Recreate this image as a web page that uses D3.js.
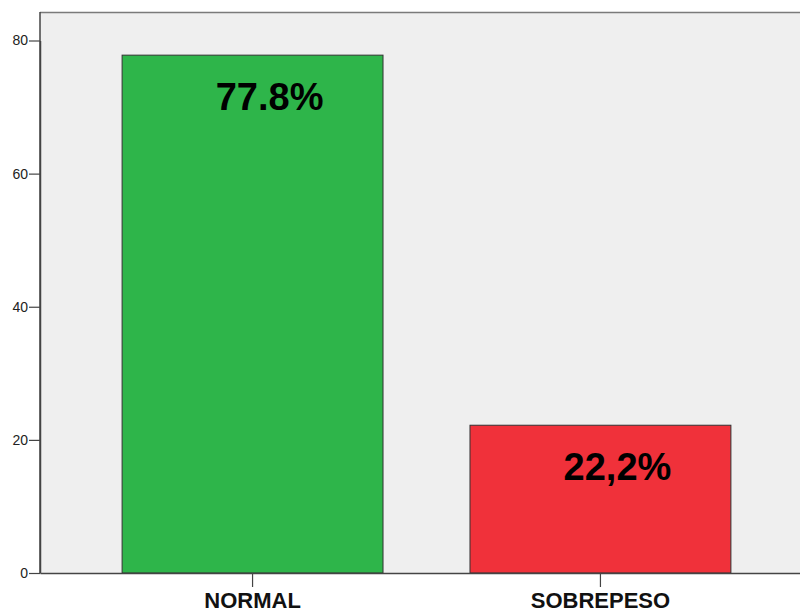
<!DOCTYPE html>
<html>
<head>
<meta charset="utf-8">
<script src="https://cdn.jsdelivr.net/npm/d3@7"></script>
<style>
  html, body { margin: 0; padding: 0; background: #ffffff; }
  svg { display: block; font-family: "Liberation Sans", Arial, sans-serif; }
</style>
</head>
<body>
<svg id="chart" width="800" height="612"></svg>
<script>
// Categories, values and their printed labels
const categories = ["NORMAL", "SOBREPESO"];
const values = [77.8, 22.2];
const valueLabels = ["77.8%", "22,2%"];
const yTicks = [0, 20, 40, 60, 80];
const barColors = ["#2eb54a", "#f0313a"];

const svg = d3.select("#chart");

// Plot frame
const plotLeft = 40, plotTop = 12, plotBottom = 573, plotRight = 813;

const x = d3.scaleBand()
  .domain(categories)
  .range([plotLeft, plotRight])
  .paddingInner(0.25)
  .paddingOuter(0.236);

const y = d3.scaleLinear()
  .domain([0, 80])
  .range([plotBottom, 40.5]);

// Background panel
svg.append("rect")
  .attr("x", plotLeft).attr("y", plotTop)
  .attr("width", 800 - plotLeft + 2).attr("height", plotBottom - plotTop)
  .attr("fill", "#efefef")
  .attr("stroke", "none");

// Top border of the panel
svg.append("line")
  .attr("x1", plotLeft).attr("x2", 800)
  .attr("y1", plotTop + 0.5).attr("y2", plotTop + 0.5)
  .attr("stroke", "#7a7a7a").attr("stroke-width", 1.5);

// Bars
svg.selectAll("rect.bar")
  .data(values)
  .join("rect")
  .attr("class", "bar")
  .attr("x", (d, i) => x(categories[i]))
  .attr("y", d => y(d))
  .attr("width", x.bandwidth())
  .attr("height", d => y(0) - y(d))
  .attr("fill", (d, i) => barColors[i])
  .attr("stroke", "#333333")
  .attr("stroke-width", 1);

// Value labels inside the bars
svg.selectAll("text.val")
  .data(values)
  .join("text")
  .attr("class", "val")
  .attr("x", (d, i) => x(categories[i]) + x.bandwidth() / 2 + 17)
  .attr("y", d => y(d) + 55)
  .attr("text-anchor", "middle")
  .attr("font-size", 38)
  .attr("font-weight", "bold")
  .attr("fill", "#000000")
  .text((d, i) => valueLabels[i]);

// Y axis
const yAxis = svg.append("g")
  .attr("transform", `translate(${plotLeft},0)`)
  .call(d3.axisLeft(y).tickValues(yTicks).tickSize(11).tickPadding(1).tickSizeOuter(0));
yAxis.select(".domain").attr("stroke", "#444444").attr("stroke-width", 1.5);
yAxis.selectAll(".tick line").attr("stroke", "#444444").attr("stroke-width", 1.2);
yAxis.selectAll(".tick text")
  .attr("font-size", 14)
  .attr("fill", "#222222")
  .style("font-family", "'Liberation Sans', Arial, sans-serif");
// extend the left border to the panel top
yAxis.append("line")
  .attr("x1", 0).attr("x2", 0)
  .attr("y1", plotTop).attr("y2", plotBottom)
  .attr("stroke", "#444444").attr("stroke-width", 1.5);

// X axis
const xAxis = svg.append("g")
  .attr("transform", `translate(0,${plotBottom})`)
  .call(d3.axisBottom(x).tickSize(14).tickPadding(5).tickSizeOuter(0));
xAxis.select(".domain").attr("stroke", "#444444").attr("stroke-width", 1.5);
xAxis.selectAll(".tick line").attr("stroke", "#444444").attr("stroke-width", 1.2);
xAxis.selectAll(".tick text")
  .attr("font-size", 22)
  .attr("font-weight", "bold")
  .attr("fill", "#111111")
  .style("font-family", "'Liberation Sans', Arial, sans-serif");
</script>
</body>
</html>
